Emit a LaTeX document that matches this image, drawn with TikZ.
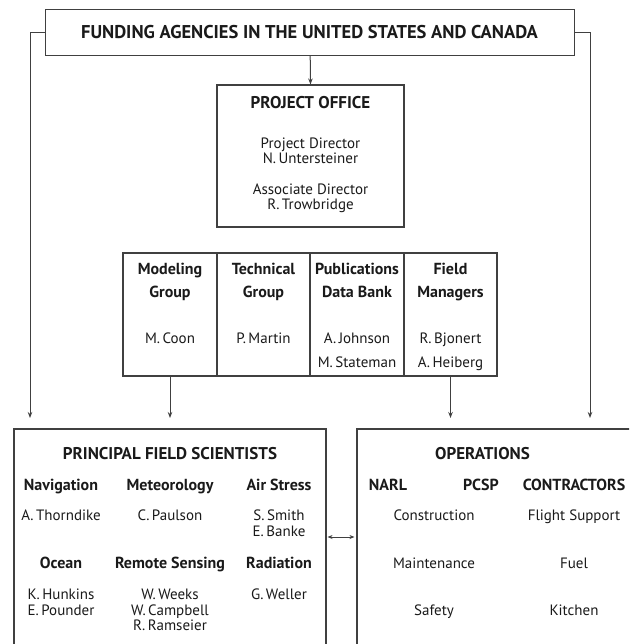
\documentclass[tikz,border=0pt]{standalone}
\usepackage{fontspec}
\setmainfont{PT Sans}
\usetikzlibrary{arrows.meta}
\definecolor{ln}{HTML}{404040}
\definecolor{tx}{HTML}{1A1A1A}
\begin{document}
\begin{tikzpicture}[x=1pt,y=-1pt,
  box/.style={draw=ln, line width=1.1pt, inner sep=0pt, fill=white},
  conn/.style={draw=ln, line width=1pt},
  arr/.style={conn,-{Stealth[length=6pt,width=4.5pt]}},
  dbl/.style={conn,{Stealth[length=5pt,width=4pt]}-{Stealth[length=5pt,width=4pt]}},
  lbl/.style={anchor=base, inner sep=0pt, text=tx},
  hd/.style={lbl, font=\bfseries\fontsize{16}{18}\selectfont},
  nm/.style={lbl, font=\fontsize{15}{17}\selectfont},
  ttl/.style={lbl, font=\bfseries\fontsize{17}{19}\selectfont},
]
\useasboundingbox (0,0) rectangle (629,644);
\clip (0,0) rectangle (629,644);
\fill[white] (0,0) rectangle (629,644);

% boxes
\node[box, minimum width=529pt, minimum height=46pt] (fund) at (310.2,32.3) {};
\node[box, minimum width=187pt, minimum height=142pt] (po) at (310.5,156) {};
\node[box, minimum width=94pt, minimum height=123pt] (g1) at (170,314.5) {};
\node[box, minimum width=93pt, minimum height=123pt] (g2) at (263.5,314.5) {};
\node[box, minimum width=94pt, minimum height=123pt] (g3) at (357,314.5) {};
\node[box, minimum width=93pt, minimum height=123pt] (g4) at (450.5,314.5) {};
\node[box, minimum width=312pt, minimum height=271pt] (pfs) at (170,564.5) {};
\node[box, minimum width=343pt, minimum height=271pt] (ops) at (528.5,564.5) {};

% free ends
\coordinate (lend) at (30,418);
\coordinate (rend) at (590,418);
\coordinate (dy) at (340,537);

% connectors
\draw[arr] (fund.south) -- (po.north);
\draw[arr] (fund.west) -| (lend);
\draw[arr] (fund.east) -| (rend);
\draw[arr] (g1.south) -- (g1.south |- lend);
\draw[arr] (g4.south) -- (g4.south |- lend);
\draw[dbl, shorten <=1pt, shorten >=2pt] (pfs.east |- dy) -- (ops.west |- dy);

% texts: funding
\node[lbl, font=\bfseries\fontsize{18.5}{21}\selectfont] (tfund) at (309.5,38.6) {FUNDING AGENCIES IN THE UNITED STATES AND CANADA};

% project office
\node[lbl, font=\bfseries\fontsize{17}{19}\selectfont] (tpo) at (310.5,108.5) {PROJECT OFFICE};
\node[nm] (pd1) at (310.5,149) {Project Director};
\node[nm] (pd2) at (310.5,164) {N.\,Untersteiner};
\node[nm] (ad1) at (310.5,195) {Associate Director};
\node[nm] (ad2) at (310.5,210) {R.\,Trowbridge};

% groups
\node[hd] (h1a) at (170,274) {Modeling};
\node[hd] (h1b) at (170,297) {Group};
\node[nm] (n1a) at (170,343) {M.\,Coon};
\node[hd] (h2a) at (263.5,274) {Technical};
\node[hd] (h2b) at (263.5,297) {Group};
\node[nm] (n2a) at (263.5,343) {P.\,Martin};
\node[hd] (h3a) at (357,274) {Publications};
\node[hd] (h3b) at (357,297) {Data Bank};
\node[nm] (n3a) at (357,343) {A.\,Johnson};
\node[nm] (n3b) at (357,367) {M.\,Stateman};
\node[hd] (h4a) at (450.5,274) {Field};
\node[hd] (h4b) at (450.5,297) {Managers};
\node[nm] (n4a) at (450.5,343) {R.\,Bjonert};
\node[nm] (n4b) at (450.5,367) {A.\,Heiberg};

% principal field scientists
\node[ttl] (tpfs) at (170,459.3) {PRINCIPAL FIELD SCIENTISTS};
\node[hd] (pa) at (61,490.7) {Navigation};
\node[hd] (pb) at (170,490.7) {Meteorology};
\node[hd] (pc) at (279,490.7) {Air Stress};
\node[nm] (pa1) at (61,520.7) {A.\,Thorndike};
\node[nm] (pb1) at (170,520.7) {C.\,Paulson};
\node[nm] (pc1) at (279,520.7) {S.\,Smith};
\node[nm] (pc2) at (279,536.7) {E.\,Banke};
\node[hd] (pd) at (61,568.3) {Ocean};
\node[hd] (pe) at (170,568.3) {Remote Sensing};
\node[hd] (pf) at (279,568.3) {Radiation};
\node[nm] (pd1x) at (61,599) {K.\,Hunkins};
\node[nm] (pd2x) at (61,615) {E.\,Pounder};
\node[nm] (pe1) at (170,599) {W.\,Weeks};
\node[nm] (pe2) at (170,615) {W.\,Campbell};
\node[nm] (pe3) at (170,630) {R.\,Ramseier};
\node[nm] (pf1) at (279,599) {G.\,Weller};

% operations
\node[ttl] (tops) at (482.5,459.3) {OPERATIONS};
\node[hd] (oa) at (388,490.7) {NARL};
\node[hd] (ob) at (481,490.7) {PCSP};
\node[hd] (oc) at (574,490.7) {CONTRACTORS};
\node[nm] (o1) at (434,520.7) {Construction};
\node[nm] (o2) at (574,520.7) {Flight Support};
\node[nm] (o3) at (434,568.3) {Maintenance};
\node[nm] (o4) at (574,568.3) {Fuel};
\node[nm] (o5) at (434,615) {Safety};
\node[nm] (o6) at (574,615) {Kitchen};
\end{tikzpicture}
\end{document}
